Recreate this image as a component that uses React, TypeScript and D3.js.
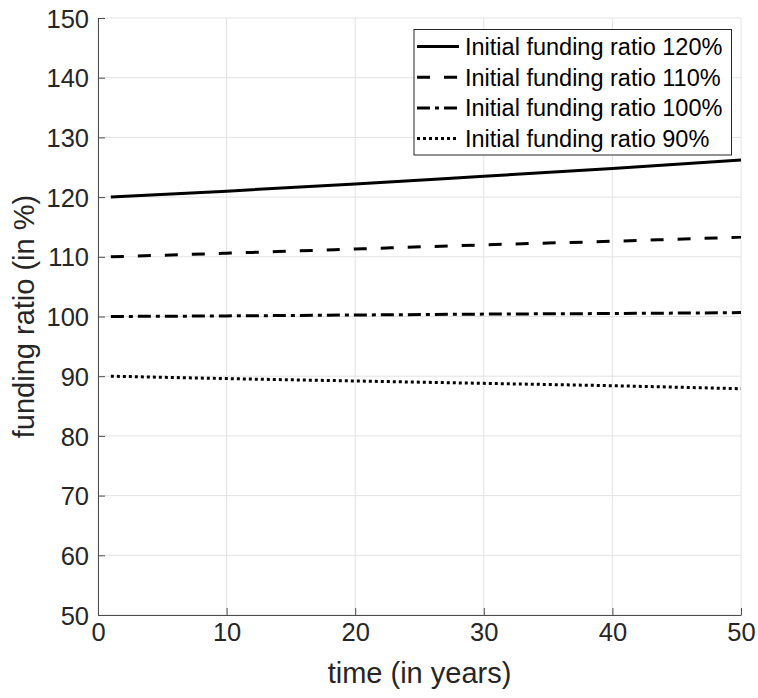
import React, { useRef, useEffect } from "react";
import * as d3 from "d3";

const years = [1, 10, 20, 30, 40, 50];

// funding ratio paths (in %) per initial funding ratio
const ratio120 = [120.0, 121.0, 122.2, 123.5, 124.8, 126.2];
const ratio110 = [110.0, 110.6, 111.3, 112.0, 112.6, 113.3];
const ratio100 = [100.0, 100.1, 100.25, 100.4, 100.5, 100.65];
const ratio90 = [90.0, 89.6, 89.2, 88.8, 88.4, 87.9];

const seriesLabels = [
  "Initial funding ratio 120%",
  "Initial funding ratio 110%",
  "Initial funding ratio 100%",
  "Initial funding ratio 90%",
];

const xTicks = [0, 10, 20, 30, 40, 50];
const yTicks = [50, 60, 70, 80, 90, 100, 110, 120, 130, 140, 150];

const dashes = ["none", "13,14", "13,5,4,5", "3,3"];

export default function App() {
  const svgRef = useRef<SVGSVGElement | null>(null);

  useEffect(() => {
    document.body.style.margin = "0";
    const svg = d3.select(svgRef.current);
    svg.selectAll("*").remove();

    const width = 758;
    const height = 698;
    const margin = { top: 18, right: 17, bottom: 83, left: 98 };
    const innerW = width - margin.left - margin.right;
    const innerH = height - margin.top - margin.bottom;
    const font = "'Liberation Sans', Arial, Helvetica, sans-serif";

    svg.attr("width", width).attr("height", height);

    const g = svg
      .append("g")
      .attr("transform", `translate(${margin.left},${margin.top})`);

    const x = d3.scaleLinear().domain([0, 50]).range([0, innerW]);
    const y = d3.scaleLinear().domain([50, 150]).range([innerH, 0]);

    // grid
    g.append("g")
      .selectAll("line")
      .data(xTicks)
      .enter()
      .append("line")
      .attr("x1", d => x(d))
      .attr("x2", d => x(d))
      .attr("y1", 0)
      .attr("y2", innerH)
      .attr("stroke", "#e3e3e3")
      .attr("stroke-width", 1);

    g.append("g")
      .selectAll("line")
      .data(yTicks)
      .enter()
      .append("line")
      .attr("x1", 0)
      .attr("x2", innerW)
      .attr("y1", d => y(d))
      .attr("y2", d => y(d))
      .attr("stroke", "#e3e3e3")
      .attr("stroke-width", 1);

    // axes (MATLAB-like inward ticks)
    const xAxis = g
      .append("g")
      .attr("transform", `translate(0,${innerH})`)
      .call(d3.axisBottom(x).tickValues(xTicks).tickSizeInner(-7).tickSizeOuter(0).tickPadding(26));
    const yAxis = g
      .append("g")
      .call(d3.axisLeft(y).tickValues(yTicks).tickSizeInner(-7).tickSizeOuter(0).tickPadding(9));

    [xAxis, yAxis].forEach(ax => {
      ax.select(".domain").attr("stroke", "#4d4d4d").attr("stroke-width", 1);
      ax.selectAll(".tick line").attr("stroke", "#4d4d4d").attr("stroke-width", 1);
      ax.selectAll("text")
        .attr("font-family", font)
        .attr("font-size", "25.5px")
        .attr("fill", "#262626");
    });
    xAxis.selectAll("text").attr("dy", "0");
    yAxis.selectAll("text").attr("dy", "0.36em");

    // axis titles
    g.append("text")
      .attr("x", innerW / 2)
      .attr("y", 683 - margin.top)
      .attr("text-anchor", "middle")
      .attr("font-family", font)
      .attr("font-size", "29px")
      .attr("fill", "#262626")
      .text("time (in years)");

    g.append("text")
      .attr("transform", `translate(${34 - margin.left},${innerH / 2}) rotate(-90)`)
      .attr("text-anchor", "middle")
      .attr("font-family", font)
      .attr("font-size", "29px")
      .attr("fill", "#262626")
      .text("funding ratio (in %)");

    // lines
    const series = [ratio120, ratio110, ratio100, ratio90];
    const line = d3
      .line<number>()
      .x((_, i) => x(years[i]))
      .y(d => y(d))
      .curve(d3.curveMonotoneX);

    series.forEach((vals, i) => {
      g.append("path")
        .datum(vals)
        .attr("fill", "none")
        .attr("stroke", "#000")
        .attr("stroke-width", 3)
        .attr("stroke-dasharray", dashes[i])
        .attr("d", line);
    });

    // legend
    const legend = svg.append("g").attr("transform", "translate(414,29.5)");
    legend
      .append("rect")
      .attr("width", 317.5)
      .attr("height", 125.5)
      .attr("fill", "#fff")
      .attr("stroke", "#262626")
      .attr("stroke-width", 1);

    seriesLabels.forEach((label, i) => {
      const ly = 17 + i * 30.7;
      legend
        .append("line")
        .attr("x1", 3)
        .attr("x2", 45)
        .attr("y1", ly)
        .attr("y2", ly)
        .attr("stroke", "#000")
        .attr("stroke-width", 3)
        .attr("stroke-dasharray", dashes[i]);
      legend
        .append("text")
        .attr("x", 51)
        .attr("y", ly)
        .attr("dy", "0.36em")
        .attr("font-family", font)
        .attr("font-size", "23.5px")
        .attr("fill", "#000")
        .text(label);
    });
  }, []);

  return <svg ref={svgRef} style={{ display: "block" }}></svg>;
}
